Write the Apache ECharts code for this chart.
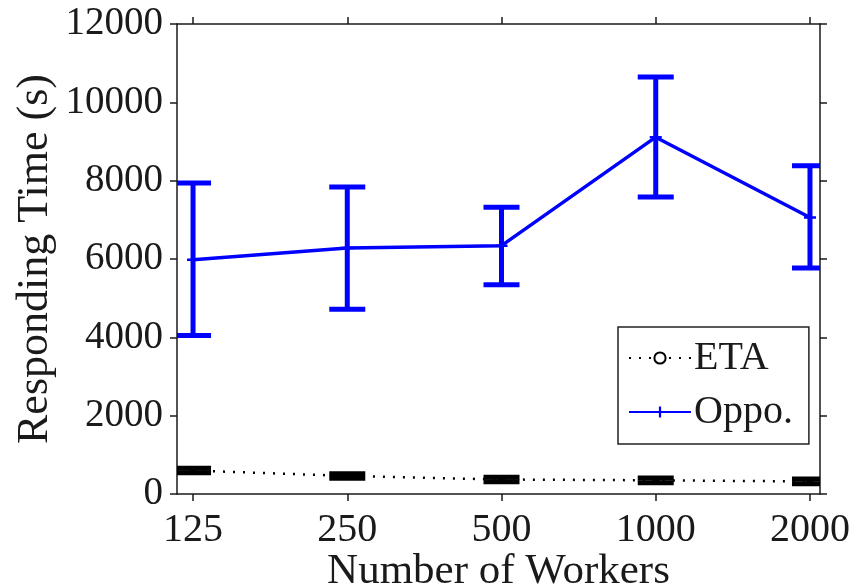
<!DOCTYPE html>
<html>
<head>
<meta charset="utf-8">
<script src="https://cdn.jsdelivr.net/npm/echarts@6/dist/echarts.min.js"></script>
<style>
  html, body { margin: 0; padding: 0; background: #fff; }
  #chart { width: 861px; height: 585px; }
</style>
</head>
<body>
<div id="chart"></div>
<script>
// data
const workers = ['125', '250', '500', '1000', '2000']
const oppoMean = [5980, 6280, 6340, 9110, 7060]
const oppoLow = [4050, 4720, 5340, 7580, 5770]
const oppoHigh = [7940, 7840, 7320, 10650, 8380]
const etaMean = [600, 460, 370, 350, 320]
const etaLow = [540, 400, 310, 290, 260]
const etaHigh = [660, 520, 430, 410, 380]
const yTicks = [0, 2000, 4000, 6000, 8000, 10000, 12000]

const font = 'Liberation Serif'
const ink = '#1a1a1a'
const idx = workers.map((w, i) => i)

const plusSymbol = 'path://M0,4H4V0H6V4H10V6H6V10H4V6H0Z'

function errorBar(halfWidth) {
  return function(params, api) {
    const x = api.value(0)
    const top = api.coord([x, api.value(2)])
    const bot = api.coord([x, api.value(1)])
    const style = { stroke: api.visual('color'), lineWidth: 5 }
    return {
      type: 'group',
      children: [
        { type: 'line', shape: { x1: top[0], y1: top[1], x2: bot[0], y2: bot[1] }, style },
        { type: 'line', shape: { x1: top[0] - halfWidth, y1: top[1], x2: top[0] + halfWidth, y2: top[1] }, style },
        { type: 'line', shape: { x1: bot[0] - halfWidth, y1: bot[1], x2: bot[0] + halfWidth, y2: bot[1] }, style }
      ]
    }
  }
}

const axisLine = { show: true, onZero: false, lineStyle: { color: ink, width: 1.5 } }
const tick = { show: true, inside: false, length: 7, lineStyle: { color: ink, width: 1.5 } }

const chart = echarts.init(document.getElementById('chart'))
chart.setOption({
  animation: false,
  backgroundColor: '#fff',
  grid: { left: 177, right: 41, top: 24, bottom: 91, containLabel: false, outerBoundsMode: 'none' },
  legend: {
    data: ['ETA', 'Oppo.'],
    orient: 'vertical',
    left: 618,
    top: 327,
    padding: [11, 16, 12, 10],
    itemGap: 14,
    itemWidth: 62,
    itemHeight: 14,
    borderColor: '#222',
    borderWidth: 1.5,
    backgroundColor: '#fff',
    textStyle: { fontFamily: font, fontSize: 40, color: ink, lineHeight: 40, padding: [0, 0, 0, -2] }
  },
  xAxis: [{
    type: 'value',
    position: 'bottom',
    min: -0.104,
    max: 4.065,
    splitLine: { show: false },
    axisLine,
    axisTick: Object.assign({ customValues: idx }, tick),
    axisLabel: {
      customValues: idx,
      formatter: v => workers[Math.round(v)],
      fontFamily: font, fontSize: 40, color: ink, margin: 16
    },
    name: 'Number of Workers',
    nameLocation: 'middle',
    nameGap: 56,
    nameMoveOverlap: false,
    nameTextStyle: { fontFamily: font, fontSize: 43, color: ink }
  }, {
    type: 'value',
    position: 'top',
    min: -0.104,
    max: 4.065,
    splitLine: { show: false },
    axisLine,
    axisTick: Object.assign({ customValues: idx }, tick),
    axisLabel: { show: false }
  }],
  yAxis: [{
    type: 'value',
    position: 'left',
    min: 0,
    max: 12000,
    interval: 2000,
    splitLine: { show: false },
    axisLine,
    axisTick: Object.assign({ customValues: yTicks }, tick),
    axisLabel: { formatter: v => String(v), fontFamily: font, fontSize: 39, color: ink, margin: 14 },
    name: 'Responding Time (s)',
    nameLocation: 'middle',
    nameGap: 120,
    nameMoveOverlap: false,
    nameTextStyle: { fontFamily: font, fontSize: 44, color: ink }
  }, {
    type: 'value',
    position: 'right',
    min: 0,
    max: 12000,
    interval: 2000,
    splitLine: { show: false },
    axisLine,
    axisTick: tick,
    axisLabel: { show: false }
  }],
  series: [{
    name: 'ETA',
    type: 'line',
    data: etaMean.map((v, i) => [i, v]),
    color: '#000',
    symbol: 'emptyCircle',
    symbolSize: 5,
    lineStyle: { color: '#000', width: 2.5, type: [2, 8] },
    z: 2
  }, {
    name: 'ETA err',
    type: 'custom',
    clip: true,
    color: '#000',
    renderItem: errorBar(18),
    data: etaMean.map((v, i) => [i, etaLow[i], etaHigh[i]]),
    z: 3
  }, {
    name: 'Oppo.',
    type: 'line',
    data: oppoMean.map((v, i) => [i, v]),
    color: '#0000ff',
    symbol: plusSymbol,
    symbolSize: 12,
    lineStyle: { color: '#0000ff', width: 3.5 },
    z: 2
  }, {
    name: 'Oppo err',
    type: 'custom',
    clip: true,
    color: '#0000ff',
    renderItem: errorBar(18),
    data: oppoMean.map((v, i) => [i, oppoLow[i], oppoHigh[i]]),
    z: 3
  }]
})
</script>
</body>
</html>
